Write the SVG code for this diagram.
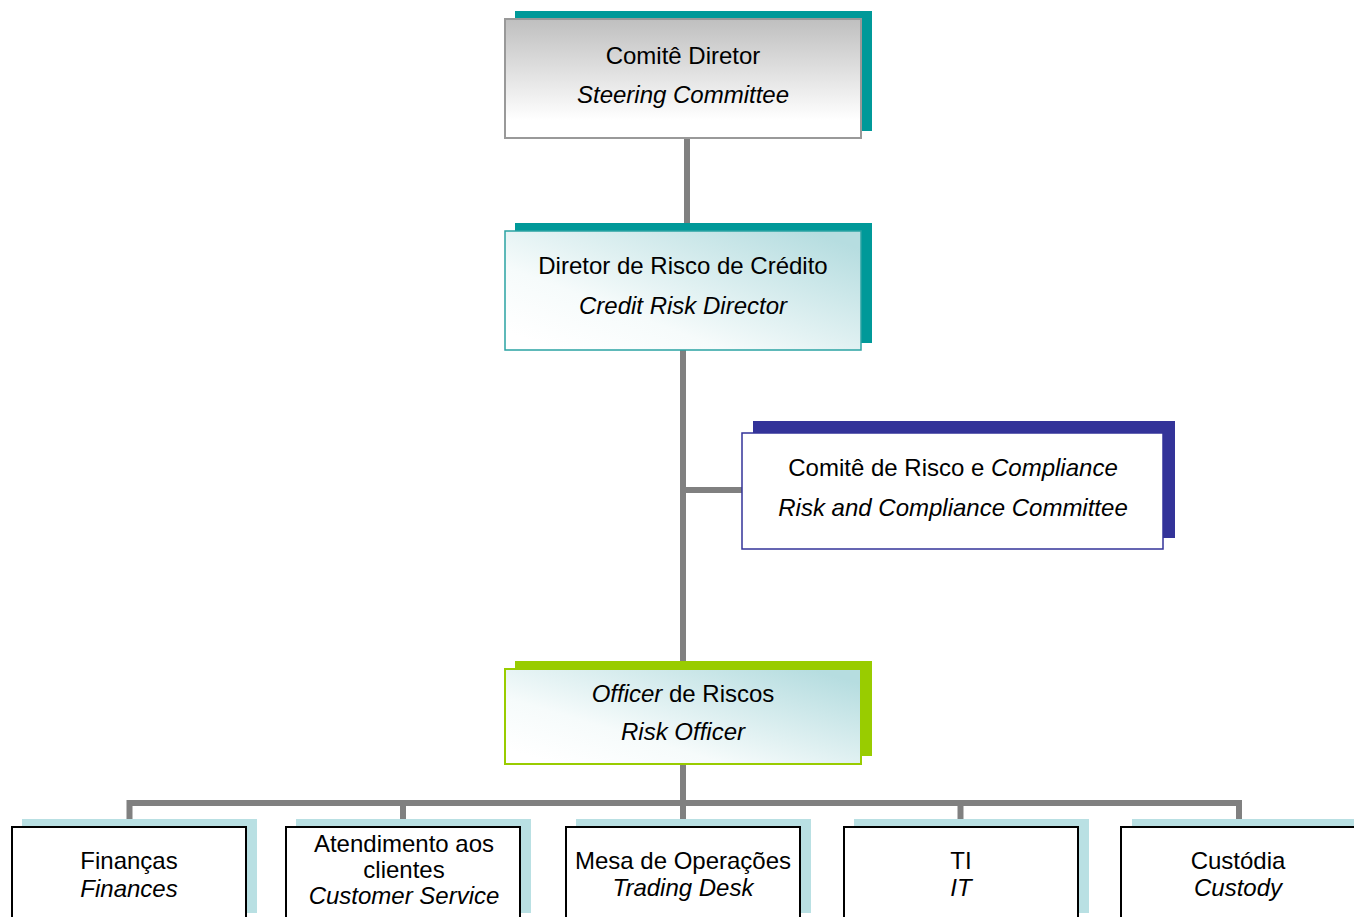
<svg xmlns="http://www.w3.org/2000/svg" width="1354" height="917" viewBox="0 0 1354 917">
<defs>
<linearGradient id="gGray" x1="0" y1="0" x2="0" y2="1">
<stop offset="0" stop-color="#bfbfbf"/>
<stop offset="0.85" stop-color="#ffffff"/>
</linearGradient>
<linearGradient id="gTeal" x1="0.05" y1="0.9" x2="0.95" y2="0.1">
<stop offset="0" stop-color="#ffffff"/>
<stop offset="0.3" stop-color="#f6fbfb"/>
<stop offset="1" stop-color="#b6dde0"/>
</linearGradient>
<style>
.conn{stroke:#808080;stroke-width:6;fill:none}
.t{font-family:"Liberation Sans",Arial,sans-serif;font-size:24px;fill:#000;text-anchor:middle}
.i{font-style:italic}
.sh{fill:#b9e0e3}
.bx{fill:#ffffff;stroke:#000;stroke-width:2}
</style>
</defs>
<rect width="1354" height="917" fill="#ffffff"/>
<g id="connectors">
<line class="conn" x1="687" y1="138" x2="687" y2="228"/>
<line class="conn" x1="683" y1="350" x2="683" y2="666"/>
<line class="conn" x1="683" y1="490" x2="742" y2="490"/>
<line class="conn" x1="683" y1="764" x2="683" y2="822"/>
<polyline class="conn" points="129.5,822 129.5,803 1239,803 1239,822"/>
<line class="conn" x1="403" y1="803" x2="403" y2="822"/>
<line class="conn" x1="960.5" y1="803" x2="960.5" y2="822"/>
</g>
<g id="steering">
<rect x="515" y="11" width="357" height="120" fill="#009999"/>
<rect x="505" y="19" width="356" height="119" fill="url(#gGray)" stroke="#999999" stroke-width="2"/>
<text class="t" x="683" y="64">Comitê Diretor</text>
<text class="t i" x="683" y="103">Steering Committee</text>
</g>
<g id="credit-risk-director">
<rect x="515" y="223" width="357" height="120" fill="#009999"/>
<rect x="505" y="231" width="356" height="119" fill="url(#gTeal)" stroke="#2aa3a3" stroke-width="1.5"/>
<text class="t" x="683" y="274">Diretor de Risco de Crédito</text>
<text class="t i" x="683" y="314">Credit Risk Director</text>
</g>
<g id="compliance">
<rect x="753" y="421" width="422" height="117" fill="#333399"/>
<rect x="742" y="433" width="421" height="116" fill="#ffffff" stroke="#333399" stroke-width="1.5"/>
<text class="t" x="953" y="476">Comitê de Risco e <tspan class="i">Compliance</tspan></text>
<text class="t i" x="953" y="516">Risk and Compliance Committee</text>
</g>
<g id="risk-officer">
<rect x="515" y="661" width="357" height="95" fill="#99cc00"/>
<rect x="505" y="669" width="356" height="95" fill="url(#gTeal)" stroke="#99cc00" stroke-width="2"/>
<text class="t" x="683" y="702"><tspan class="i">Officer</tspan> de Riscos</text>
<text class="t i" x="683" y="740">Risk Officer</text>
</g>
<g id="financas">
<rect class="sh" x="22" y="819" width="235" height="94"/>
<rect class="bx" x="12" y="827" width="234" height="100"/>
<text class="t" x="129" y="869">Finanças</text>
<text class="t i" x="129" y="897">Finances</text>
</g>
<g id="atendimento">
<rect class="sh" x="296" y="819" width="235" height="94"/>
<rect class="bx" x="286" y="827" width="234" height="100"/>
<text class="t" x="404" y="852">Atendimento aos</text>
<text class="t" x="404" y="878">clientes</text>
<text class="t i" x="404" y="904">Customer Service</text>
</g>
<g id="mesa">
<rect class="sh" x="576" y="819" width="235" height="94"/>
<rect class="bx" x="566" y="827" width="234" height="100"/>
<text class="t" x="683" y="869">Mesa de Operações</text>
<text class="t i" x="683" y="896">Trading Desk</text>
</g>
<g id="ti">
<rect class="sh" x="854" y="819" width="235" height="94"/>
<rect class="bx" x="844" y="827" width="234" height="100"/>
<text class="t" x="961" y="869">TI</text>
<text class="t i" x="961" y="896">IT</text>
</g>
<g id="custodia">
<rect class="sh" x="1132" y="819" width="235" height="94"/>
<rect class="bx" x="1121" y="827" width="234" height="100"/>
<text class="t" x="1238" y="869">Custódia</text>
<text class="t i" x="1238" y="896">Custody</text>
</g>
</svg>
